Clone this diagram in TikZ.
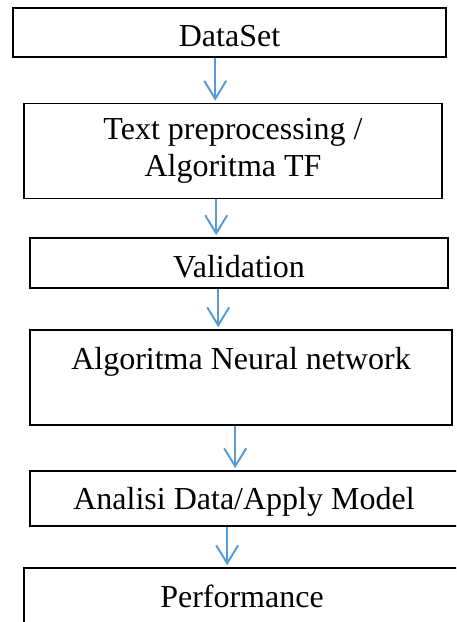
\documentclass[tikz,border=0pt]{standalone}
\usepackage{fontspec}
\setmainfont{Liberation Serif}
\usepackage{tikz}
\usepackage{xcolor}
\usetikzlibrary{arrows.meta,positioning,calc}
\definecolor{Flow}{HTML}{5B9BD5}

\begin{document}
\begin{tikzpicture}[
  box/.style={draw=black,line width=1.6pt,inner sep=0pt,anchor=base,font=\fontsize{32}{37}\selectfont},
  arrow/.style={-{Straight Barb[length=18pt,width=22pt]},line width=2pt,draw=Flow,shorten >=2pt}
]
\useasboundingbox (0,0) rectangle (456pt,622pt);
\clip (0,0) rectangle (456pt,622pt);
\node[box,minimum width=433pt,text height=39pt,text depth=10pt] (data) at (229.5pt,575pt) {DataSet};
\node[box,anchor=center,minimum width=418pt,minimum height=95pt,align=center] (prep) at (233pt,471pt) {Text preprocessing /\\ Algoritma TF};
\node[box,minimum width=418pt,text height=40pt,text depth=10pt] (valid) at (239pt,344pt) {Validation};
\node[box,minimum width=422pt,text height=40pt,text depth=55pt] (nn) at (241pt,252pt) {Algoritma Neural network};
\node[box,minimum width=428pt,text height=39pt,text depth=16pt] (apply) at (244pt,112pt) {Analisi Data/Apply Model};
\node[box,minimum width=436pt,text height=40pt,text depth=30pt] (perf) at (242pt,14pt) {Performance};
\draw[arrow] ([xshift=203pt]data.south west) -- ([xshift=203pt]data.south west |- prep.north);
\draw[arrow] ([xshift=193pt]prep.south west) -- ([xshift=193pt]prep.south west |- valid.north);
\draw[arrow] ([xshift=189pt]valid.south west) -- ([xshift=189pt]valid.south west |- nn.north);
\draw[arrow] ([xshift=206pt]nn.south west) -- ([xshift=206pt]nn.south west |- apply.north);
\draw[arrow] ([xshift=198pt]apply.south west) -- ([xshift=198pt]apply.south west |- perf.north);
\end{tikzpicture}
\end{document}
